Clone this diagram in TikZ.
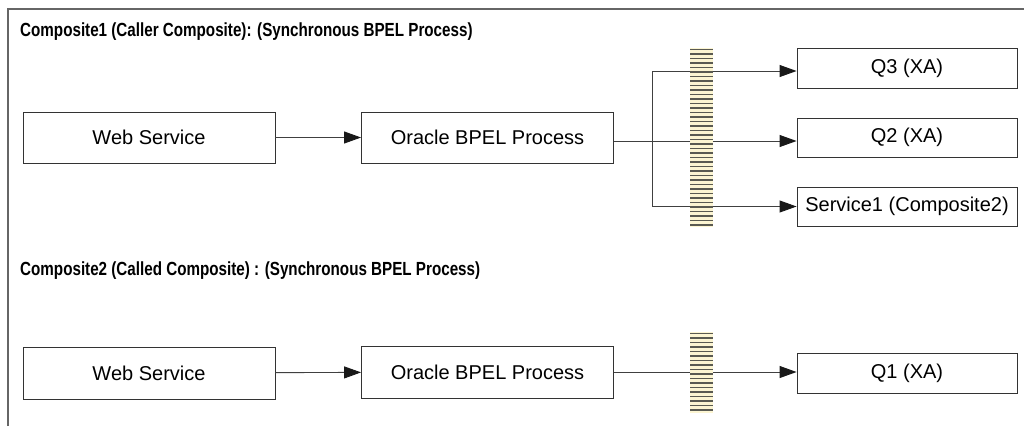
\documentclass[tikz,border=0pt]{standalone}
\usepackage{fontspec}
\setmainfont{Liberation Sans}
\newfontfamily\titlefont[FakeStretch=0.8]{Liberation Sans}
\usetikzlibrary{arrows.meta}
\definecolor{cream}{HTML}{FCF5D2}
\definecolor{stripe}{HTML}{5A5A52}
\begin{document}
\begin{tikzpicture}[x=1pt,y=-1pt,
  box/.style={draw=black!80, line width=0.9pt, minimum width=252pt, minimum height=51pt, inner sep=0pt, font=\fontsize{20}{23}\selectfont},
  qbox/.style={box, minimum width=220pt, minimum height=40pt},
  conn/.style={draw=black!75, line width=0.9pt},
  arr/.style={conn, -{Triangle[length=17pt,width=12pt,color=black!90]}},
  bar/.style={fill=cream, minimum width=23pt, inner sep=0pt,
    path picture={\foreach \k in {1.5,6,...,260}{\draw[stripe,line width=1.1pt] ([yshift=-\k pt]path picture bounding box.north west) -- ([yshift=-\k pt]path picture bounding box.north east);}}},
  title/.style={anchor=west, inner sep=0pt, font=\titlefont\bfseries\fontsize{19}{22}\selectfont},
  frame/.style={draw=black!60, line width=1.2pt}]
\useasboundingbox (0,0) rectangle (1024,426);
\draw[frame] (8,426) -- (8,9) -- (1024,9);
\node[title] (t1) at (20,32) {Composite1 (Caller Composite): (Synchronous BPEL Process)};
\node[title] (t2) at (20,271) {Composite2 (Called Composite) : (Synchronous BPEL Process)};
\node[box] (ws1) at (149,137.5) {Web Service};
\node[box] (o1) at (487.5,137.5) {Oracle BPEL Process};
\node[qbox] (q3) at (907,68) {Q3 (XA)};
\node[qbox, minimum height=39pt] (q2) at (907,137.5) {Q2 (XA)};
\node[qbox, minimum height=39pt] (s1) at (907,206.5) {Service1 (Composite2)};
\node[box, minimum height=52pt] (ws2) at (149,373) {Web Service};
\node[box, minimum height=52pt] (o2) at (487.5,372) {Oracle BPEL Process};
\node[qbox] (q1) at (907,373) {Q1 (XA)};
\draw[arr] (ws1) -- (o1);
\coordinate (o1out) at ([yshift=-3.5pt]o1.east);
\coordinate (sp) at (652,141);
\draw[conn] (o1out) -- (sp);
\draw[arr] (sp) -- (sp -| q2.west);
\draw[arr] (sp) |- ([yshift=-3pt]q3.west);
\draw[arr] (sp) |- (s1.west);
\draw[arr] (ws2) -- (o2);
\draw[arr] (o2.east) -- (o2.east -| q1.west);
\node[bar, minimum height=179pt] (b1) at (701.5,137.5) {};
\node[bar, minimum height=81pt] (b2) at (701.5,372.5) {};
\end{tikzpicture}
\end{document}
